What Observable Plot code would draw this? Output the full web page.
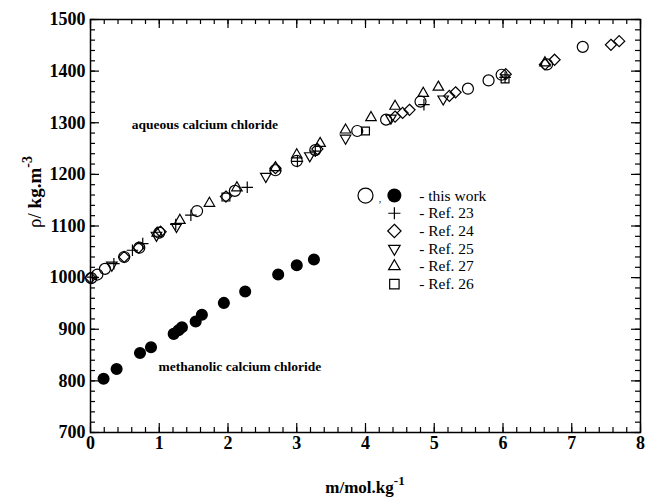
<!DOCTYPE html>
<html><head><meta charset="utf-8">
<script src="https://cdn.jsdelivr.net/npm/d3@7"></script>
<script src="https://cdn.jsdelivr.net/npm/@observablehq/plot@0.6"></script>
<style>body{margin:0;background:#fff}</style>
</head><body><div id="chart"></div>
<script>
// this work, aqueous (open circles)
const aqX = [0.01,0.1,0.21,0.49,0.71,1.0,1.55,2.1,2.69,3.0,3.27,3.88,4.3,4.8,5.49,5.79,5.98,6.64,7.16];
const aqY = [999,1006,1017,1040,1058,1087,1129,1168,1208,1226,1247,1284,1306,1341,1366,1382,1393,1413,1447];
// this work, methanolic (filled circles)
const meX = [0.19,0.38,0.72,0.88,1.21,1.28,1.33,1.53,1.62,1.94,2.25,2.73,3.0,3.25];
const meY = [804,823,854,865,891,898,904,915,928,951,973,1006,1024,1035];
// Ref. 23 (+)
const r23X = [0.03,0.34,0.61,0.76,1.24,1.46,2.28,3.01,3.27,4.85,6.03];
const r23Y = [1001,1027,1053,1066,1103,1121,1175,1225,1245,1335,1388];
// Ref. 24 (diamonds)
const r24X = [0,0.49,0.7,1.02,1.97,2.69,3.3,4.43,4.54,4.64,5.22,5.31,6.04,6.61,6.75,7.57,7.69];
const r24Y = [1000,1040,1058,1089,1157,1212,1249,1312,1319,1325,1352,1359,1394,1413,1422,1451,1458];
// Ref. 25 (down triangles)
const r25X = [0.31,0.96,1.25,2.55,3.19,3.71,4.37,5.13];
const r25Y = [1024,1082,1099,1196,1236,1270,1309,1346];
// Ref. 27 (up triangles)
const r27X = [0.97,1.3,1.73,2.13,2.69,3.0,3.34,3.71,4.08,4.43,4.84,5.06,6.61];
const r27Y = [1086,1111,1144,1174,1213,1238,1260,1286,1310,1332,1357,1369,1416];
// Ref. 26 (squares)
const r26X = [1.97,4.0,6.03];
const r26Y = [1156,1284,1385];

const legendLabels = ["- this work","- Ref. 23","- Ref. 24","- Ref. 25","- Ref. 27","- Ref. 26"];
const legendSymbols = ["circle","plus","diamond2","triangle2","triangle2","square2"];
const legendRotate = [0,0,0,180,0,0];

const xMajor = d3.range(0, 8.01, 1);
const xMinor = d3.range(0, 8.01, 0.2);
const yMajor = d3.range(700, 1501, 100);
const yMinor = d3.range(700, 1501, 20);

const pts = (X, Y) => X.map((x, i) => ({x, y: Y[i]}));

const serif = "Liberation Serif, Times New Roman, serif";
const legX0 = 4.0, legX1 = 4.42, legXt = 4.78, legY0 = 1159, legStep = 34.3;
const leg = legendLabels.map((t, i) => ({t, sym: legendSymbols[i], rot: legendRotate[i], y: legY0 - i * legStep}));

const W = 645, H = 498, mL = 90, mR = 5, mT = 19, mB = 66;
const fw = W - mL - mR, fh = H - mT - mB;
const maj = 9, mnr = 5;

const common = {stroke: "black", strokeWidth: 1.2, fill: "none"};

const chart = Plot.plot({
  width: W, height: H,
  marginLeft: mL, marginRight: mR, marginTop: mT, marginBottom: mB,
  style: {fontFamily: serif, background: "white", color: "black"},
  x: {domain: [0, 8]},
  y: {domain: [700, 1500]},
  marks: [
    Plot.axisX(xMajor, {anchor: "bottom", tickSize: 0, tickPadding: 4, tickFormat: d3.format("d"), fontSize: 18, fontWeight: "bold", label: null}),
    Plot.axisY(yMajor, {anchor: "left", tickSize: 0, tickPadding: 5, tickFormat: d3.format("d"), fontSize: 18, fontWeight: "bold", label: null}),
    // inward ticks
    Plot.tickX(xMajor, {x: d => d, insetTop: fh - maj, stroke: "black", strokeWidth: 1.2}),
    Plot.tickX(xMinor, {x: d => d, insetTop: fh - mnr, stroke: "black", strokeWidth: 1.2}),
    Plot.tickX(xMajor, {x: d => d, insetBottom: fh - maj, stroke: "black", strokeWidth: 1.2}),
    Plot.tickX(xMinor, {x: d => d, insetBottom: fh - mnr, stroke: "black", strokeWidth: 1.2}),
    Plot.tickY(yMajor, {y: d => d, insetRight: fw - maj, stroke: "black", strokeWidth: 1.2}),
    Plot.tickY(yMinor, {y: d => d, insetRight: fw - mnr, stroke: "black", strokeWidth: 1.2}),
    Plot.tickY(yMajor, {y: d => d, insetLeft: fw - maj, stroke: "black", strokeWidth: 1.2}),
    Plot.tickY(yMinor, {y: d => d, insetLeft: fw - mnr, stroke: "black", strokeWidth: 1.2}),
    Plot.frame({stroke: "black", strokeWidth: 1.5}),
    Plot.dot(pts(aqX, aqY), {x: "x", y: "y", symbol: "circle", r: 5.5, ...common}),
    Plot.dot(pts(meX, meY), {x: "x", y: "y", symbol: "circle", r: 5.3, fill: "black", stroke: "black"}),
    Plot.dot(pts(r23X, r23Y), {x: "x", y: "y", symbol: "plus", r: 3.8, ...common}),
    Plot.dot(pts(r24X, r24Y), {x: "x", y: "y", symbol: "diamond2", r: 5, ...common}),
    Plot.dot(pts(r25X, r25Y), {x: "x", y: "y", symbol: "triangle2", rotate: 180, r: 5, ...common}),
    Plot.dot(pts(r27X, r27Y), {x: "x", y: "y", symbol: "triangle2", r: 5, ...common}),
    Plot.dot(pts(r26X, r26Y), {x: "x", y: "y", symbol: "square2", r: 5, ...common}),
    Plot.text(["aqueous calcium chloride"], {x: 0.6, y: 1296, text: d => d, textAnchor: "start", fontSize: 13.5, fontWeight: "bold", fontFamily: serif}),
    Plot.text(["methanolic calcium chloride"], {x: 0.99, y: 827, text: d => d, textAnchor: "start", fontSize: 13.5, fontWeight: "bold", fontFamily: serif}),
    // legend
    Plot.dot(leg.slice(0, 1), {x: legX0, y: "y", symbol: "circle", r: 7.5, ...common}),
    Plot.text(leg.slice(0, 1), {x: (legX0 + legX1) / 2, y: "y", text: () => ",", fontSize: 10, dy: 3}),
    Plot.dot(leg.slice(0, 1), {x: legX1, y: "y", symbol: "circle", r: 7, fill: "black"}),
    Plot.dot(leg.filter(d => d.sym === "plus"), {x: legX1, y: "y", symbol: "plus", r: 4, ...common}),
    Plot.dot(leg.filter(d => d.sym === "diamond2"), {x: legX1, y: "y", symbol: "diamond2", r: 6, ...common}),
    Plot.dot(leg.filter(d => d.sym === "triangle2"), {x: legX1, y: "y", symbol: "triangle2", rotate: "rot", r: 5.5, ...common}),
    Plot.dot(leg.filter(d => d.sym === "square2"), {x: legX1, y: "y", symbol: "square2", r: 6, ...common}),
    Plot.text(leg, {x: legXt, y: "y", text: "t", textAnchor: "start", fontSize: 15.5, fontFamily: serif})
  ]
});

const svg = d3.select(chart);
const yl = svg.append("text")
  .attr("transform", "translate(41,192) rotate(-90)")
  .attr("text-anchor", "middle")
  .attr("font-family", serif).attr("font-size", 19).attr("fill", "black");
yl.append("tspan").text("ρ/ ");
yl.append("tspan").attr("font-weight", "bold").text("kg.m");
yl.append("tspan").attr("font-weight", "bold").attr("font-size", 14).attr("dy", -9).text("-3");

const xl = svg.append("text")
  .attr("x", 365).attr("y", 493)
  .attr("text-anchor", "middle")
  .attr("font-family", serif).attr("font-size", 17).attr("font-weight", "bold").attr("fill", "black");
xl.append("tspan").text("m/mol.kg");
xl.append("tspan").attr("font-size", 13).attr("dy", -8).text("-1");

document.getElementById("chart").append(chart);
</script>
</body></html>
